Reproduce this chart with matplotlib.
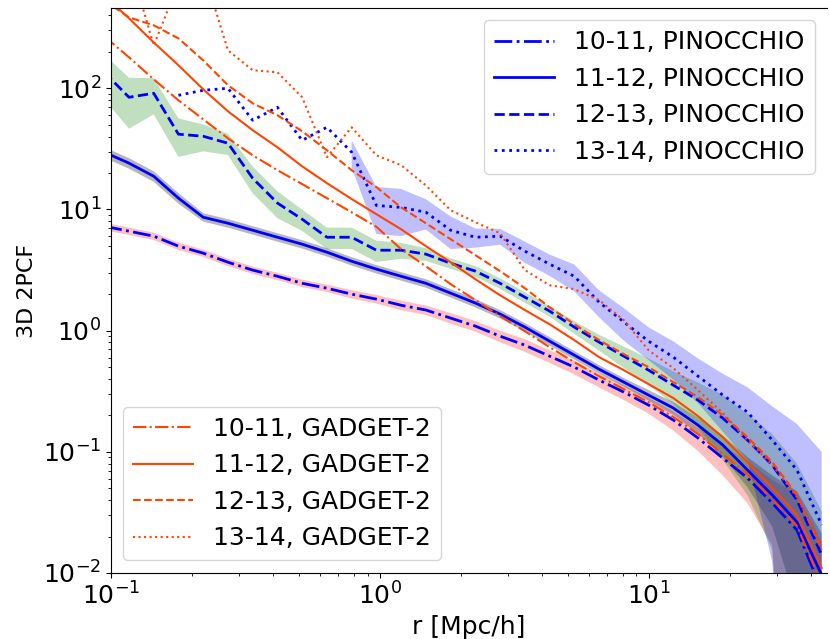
import numpy as np
import matplotlib
matplotlib.use("Agg")
import matplotlib.pyplot as plt

# radial bins [Mpc/h]
r = [0.0944, 0.1167, 0.1442, 0.1782, 0.2203, 0.2723, 0.3365, 0.4159, 0.514, 0.6353,
     0.7852, 0.9705, 1.1995, 1.4825, 1.8323, 2.2646, 2.799, 3.4594, 4.2756, 5.2845,
     6.5313, 8.0724, 9.977, 12.331, 15.241, 18.836, 23.281, 28.774, 35.563, 43.954]

mass_bins = ["10-11", "11-12", "12-13", "13-14"]

# PINOCCHIO 2PCF
pin_10_11 = [7.27, 6.62, 6.02, 4.98, 4.36, 3.67, 3.16, 2.81, 2.46, 2.24,
             2.00, 1.82, 1.62, 1.48, 1.27, 1.09, 0.90, 0.759, 0.616, 0.500,
             0.391, 0.311, 0.243, 0.183, 0.130, 0.0888, 0.0608, 0.0378, 0.0226, 0.00724]
pin_11_12 = [29.7, 24.1, 18.8, 12.4, 8.63, 7.70, 6.74, 5.90, 5.17, 4.44,
             3.74, 3.22, 2.81, 2.46, 2.04, 1.69, 1.37, 1.07, 0.819, 0.628,
             0.481, 0.376, 0.294, 0.230, 0.166, 0.114, 0.0707, 0.0440, 0.0263, 0.00963]
pin_12_13 = [135.5, 84.3, 91.0, 41.8, 40.2, 35.2, 18.1, 11.3, 8.31, 5.90,
             5.90, 4.61, 4.61, 4.28, 3.60, 3.10, 2.46, 1.89, 1.45, 1.07,
             0.804, 0.616, 0.472, 0.355, 0.267, 0.190, 0.125, 0.0778, 0.0400, 0.0141]
pin_13_14 = [np.nan, np.nan, np.nan, 87.5, 96.3, 100.0, 54.5, 69.7, 37.2, 47.7,
             29.7, 10.8, 10.4, 9.49, 6.74, 5.90, 6.02, 4.53, 3.54, 2.81,
             1.72, 1.18, 0.819, 0.605, 0.421, 0.294, 0.213, 0.125, 0.0707, 0.0249]

# relative scatter of the PINOCCHIO realisations
err_10_11 = [0.07, 0.07, 0.07, 0.07, 0.07, 0.07, 0.07, 0.07, 0.07, 0.07,
             0.08, 0.08, 0.09, 0.09, 0.10, 0.10, 0.11, 0.12, 0.12, 0.13,
             0.13, 0.14, 0.15, 0.18, 0.22, 0.28, 0.38, 0.55, 1.0, 1.5]
err_11_12 = [0.10, 0.10, 0.10, 0.10, 0.08, 0.08, 0.08, 0.08, 0.08, 0.08,
             0.08, 0.08, 0.08, 0.08, 0.08, 0.08, 0.08, 0.08, 0.08, 0.08,
             0.08, 0.08, 0.10, 0.12, 0.15, 0.20, 0.28, 0.45, 0.8, 1.2]
err_12_13 = [0.40, 0.45, 0.33, 0.35, 0.25, 0.20, 0.25, 0.25, 0.20, 0.20,
             0.20, 0.20, 0.15, 0.12, 0.10, 0.10, 0.10, 0.10, 0.10, 0.12,
             0.15, 0.20, 0.25, 0.30, 0.40, 0.55, 0.65, 0.8, 1.0, 1.3]
err_13_14 = [np.nan, np.nan, np.nan, np.nan, np.nan, np.nan, np.nan, np.nan, np.nan, np.nan,
             0.25, 0.42, 0.42, 0.28, 0.30, 0.18, 0.15, 0.20, 0.20, 0.25,
             0.25, 0.30, 0.30, 0.35, 0.40, 0.50, 0.60, 0.9, 1.4, 3.0]

# GADGET-2 2PCF
gad_10_11 = [268.5, 180.2, 118.6, 79.6, 55.5, 38.7, 28.0, 21.1, 16.2, 12.4,
             9.49, 7.2, 4.70, 3.40, 2.42, 1.79, 1.32, 0.99, 0.731, 0.550,
             0.421, 0.329, 0.257, 0.194, 0.140, 0.0958, 0.0656, 0.0408, 0.0244, 0.0081]
gad_11_12 = [585, 378, 239, 155, 98.1, 64.6, 45.1, 32.6, 22.7, 16.5,
             12.2, 9.14, 6.87, 4.98, 3.67, 2.66, 1.96, 1.48, 1.13, 0.835,
             0.605, 0.472, 0.362, 0.278, 0.197, 0.132, 0.0823, 0.0502, 0.0301, 0.0110]
gad_12_13 = [532, 385, 331, 258, 170, 106, 75.2, 59.9, 44.2, 30.8,
             21.1, 15.3, 10.4, 7.70, 5.69, 4.20, 3.10, 2.24, 1.56, 1.13,
             0.835, 0.640, 0.500, 0.376, 0.283, 0.201, 0.132, 0.0823, 0.0440, 0.0155]
gad_13_14 = [871, 1137, 226, 735, 940, 206, 141, 135.5, 84.3, 27.0,
             47.7, 28.0, 23.2, 15.8, 9.86, 7.85, 6.37, 3.16, 2.37, 2.20,
             1.79, 1.22, 0.690, 0.491, 0.323, 0.209, 0.125, 0.0778, 0.0423, 0.0170]

pin = [pin_10_11, pin_11_12, pin_12_13, pin_13_14]
err = [err_10_11, err_11_12, err_12_13, err_13_14]
gad = [gad_10_11, gad_11_12, gad_12_13, gad_13_14]
styles = ["-.", "-", "--", ":"]
band_colors = [(1.0, 0.0, 0.0, 0.25), (0.3, 0.3, 0.3, 0.4), (0.0, 0.5, 0.0, 0.25), (0.0, 0.0, 1.0, 0.25)]

fig = plt.figure(figsize=(8.3, 6.39), dpi=100)
ax = fig.add_axes([0.1337, 0.1033, 0.8627, 0.8842])

r = np.array(r)
for xi, e, c in zip(pin, err, band_colors):
    xi = np.array(xi)
    e = np.array(e)
    lo = np.clip(xi * (1 - e), 1e-5, None)
    hi = xi * (1 + e)
    ax.fill_between(r, lo, hi, color=c, lw=0)

pin_lines = []
for xi, ls, lab in zip(pin, styles, mass_bins):
    l, = ax.plot(r, xi, ls, color="blue", lw=2, label=lab + ", PINOCCHIO")
    pin_lines.append(l)

gad_lines = []
for xi, ls, lab in zip(gad, styles, mass_bins):
    l, = ax.plot(r, xi, ls, color="orangered", lw=1.5, label=lab + ", GADGET-2")
    gad_lines.append(l)

ax.set_xscale("log")
ax.set_yscale("log")
ax.set_xlim(0.1, 46)
ax.set_ylim(0.01, 460)
ax.spines["right"].set_visible(False)
ax.tick_params(labelsize=18)
ax.set_xlabel("r [Mpc/h]", fontsize=18)
ax.set_ylabel("3D 2PCF", fontsize=16)

leg1 = ax.legend(handles=pin_lines, loc="upper right", fontsize=18, handlelength=2.4)
ax.add_artist(leg1)
ax.legend(handles=gad_lines, loc="lower left", fontsize=18, handlelength=2.4)

fig.savefig("out.png", dpi=100)
